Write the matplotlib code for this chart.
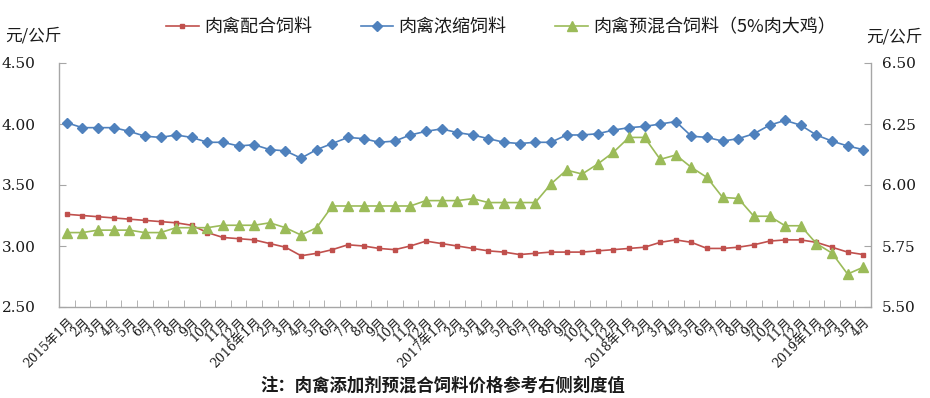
import matplotlib
matplotlib.use("Agg")
import matplotlib.pyplot as plt
from matplotlib.ticker import FixedLocator, NullFormatter

plt.rcParams['font.family'] = ['Noto Sans CJK SC', 'DejaVu Sans']

# ---------------- data ----------------
years = [2015, 2016, 2017, 2018, 2019]
months = []
for y in years:
    for m in range(1, 13):
        if y == 2019 and m > 4:
            break
        months.append(f"{y}年{m}月" if m == 1 else f"{m}月")

compound = [3.26, 3.25, 3.24, 3.23, 3.22, 3.21, 3.20, 3.19, 3.17, 3.11, 3.07, 3.06,
            3.05, 3.02, 2.99, 2.92, 2.94, 2.97, 3.01, 3.00, 2.98, 2.97, 3.00, 3.04,
            3.02, 3.00, 2.98, 2.96, 2.95, 2.93, 2.94, 2.95, 2.95, 2.95, 2.96, 2.97,
            2.98, 2.99, 3.03, 3.05, 3.03, 2.98, 2.98, 2.99, 3.01, 3.04, 3.05, 3.05,
            3.03, 2.99, 2.95, 2.93]

concentrate = [4.01, 3.97, 3.97, 3.97, 3.94, 3.90, 3.89, 3.91, 3.89, 3.85, 3.85, 3.82,
               3.83, 3.79, 3.78, 3.72, 3.79, 3.84, 3.89, 3.88, 3.85, 3.86, 3.91, 3.94,
               3.96, 3.93, 3.91, 3.88, 3.85, 3.84, 3.85, 3.85, 3.91, 3.91, 3.92, 3.95,
               3.97, 3.98, 4.00, 4.02, 3.90, 3.89, 3.86, 3.88, 3.92, 3.99, 4.03, 3.99,
               3.91, 3.86, 3.82, 3.79]

premix = [5.805, 5.805, 5.815, 5.815, 5.815, 5.805, 5.805, 5.825, 5.825, 5.825, 5.835, 5.835,
          5.835, 5.845, 5.825, 5.795, 5.825, 5.914, 5.914, 5.914, 5.914, 5.914, 5.914, 5.936,
          5.936, 5.936, 5.944, 5.928, 5.928, 5.928, 5.928, 6.004, 6.061, 6.045, 6.086, 6.134,
          6.195, 6.195, 6.105, 6.123, 6.072, 6.031, 5.949, 5.945, 5.872, 5.872, 5.833, 5.833,
          5.760, 5.721, 5.635, 5.663]

series_names = ["肉禽配合饲料", "肉禽浓缩饲料", "肉禽预混合饲料（5%肉大鸡）"]
left_ticks = [2.50, 3.00, 3.50, 4.00, 4.50]
right_ticks = [5.50, 5.75, 6.00, 6.25, 6.50]
unit_label = "元/公斤"
note = "注：肉禽添加剂预混合饲料价格参考右侧刻度值"

# ---------------- style ----------------
RED = "#C0504D"
BLUE = "#4F81BD"
GREEN = "#9BBB59"
SPINE = "#A6A6A6"
TXT = "#1a1a1a"
NUMFONT = ['DejaVu Serif', 'Noto Sans CJK SC']

fig = plt.figure(figsize=(9.3, 3.98), dpi=100)
ax = fig.add_axes([59/930, 1 - 307/398, (871 - 59)/930, (307 - 63)/398])
ax2 = ax.twinx()

x = list(range(len(months)))
l1, = ax.plot(x, compound, color=RED, lw=1.2, marker='s', ms=3.5, mec=RED, mfc=RED, zorder=3)
l2, = ax.plot(x, concentrate, color=BLUE, lw=1.2, marker='D', ms=5, mec=BLUE, mfc=BLUE, zorder=3)
l3, = ax2.plot(x, premix, color=GREEN, lw=1.2, marker='^', ms=7, mec=GREEN, mfc=GREEN, zorder=3)

ax.set_xlim(-0.5, len(months) - 0.5)
ax.set_ylim(2.5, 4.5)
ax2.set_ylim(5.5, 6.5)

for a in (ax, ax2):
    for s in a.spines.values():
        s.set_color(SPINE)
        s.set_linewidth(1.0)
    a.spines['top'].set_visible(False)
ax.spines['right'].set_visible(False)
ax2.spines['left'].set_visible(False)
ax2.spines['bottom'].set_visible(False)

ax.set_yticks(left_ticks)
ax.set_yticklabels([f"{v:.2f}" for v in left_ticks], family=NUMFONT, fontsize=11, color=TXT)
ax2.set_yticks(right_ticks)
ax2.set_yticklabels([f"{v:.2f}" for v in right_ticks], family=NUMFONT, fontsize=11, color=TXT)
ax.tick_params(axis='y', direction='in', length=5, color=SPINE, pad=17)
ax2.tick_params(axis='y', direction='in', length=5, color=SPINE, pad=8)

ax.xaxis.set_major_locator(FixedLocator(x))
ax.set_xticklabels(months, rotation=45, ha='right', va='top', rotation_mode='anchor',
                   family=NUMFONT, fontsize=9, color=TXT)
ax.tick_params(axis='x', which='major', length=0, pad=6)
ax.xaxis.set_minor_locator(FixedLocator([i + 0.5 for i in range(len(months) - 1)]))
ax.xaxis.set_minor_formatter(NullFormatter())
ax.tick_params(axis='x', which='minor', direction='in', length=5, color=SPINE)

fig.text(5/930, 1 - 36/398, unit_label, fontsize=12, va='center', ha='left', color=TXT)
fig.text(866/930, 1 - 37/398, unit_label, fontsize=12, va='center', ha='left', color=TXT)

fig.legend([l1, l2, l3], series_names, loc='center', bbox_to_anchor=(501/930, 1 - 27/398),
           ncol=3, frameon=False, fontsize=13, handlelength=1.8, handletextpad=0.3,
           columnspacing=2.7, borderaxespad=0, labelcolor=TXT)

fig.text(443/930, 1 - 386/398, note, fontsize=12.5, ha='center', va='center',
         color=TXT, fontweight='bold')

fig.savefig("out.png", dpi=100)
